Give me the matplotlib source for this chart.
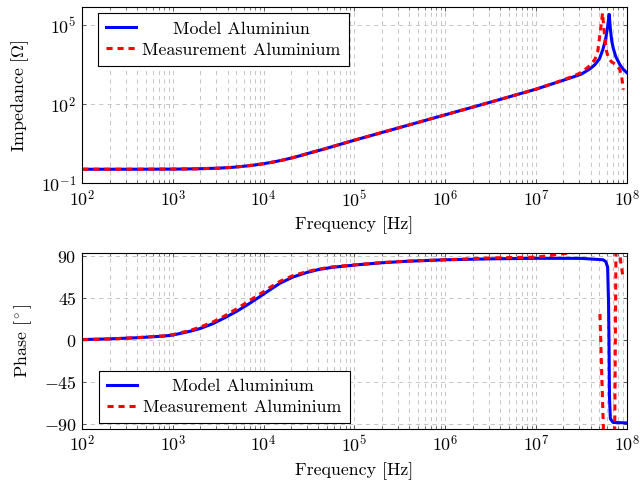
import matplotlib.pyplot as plt
import numpy as np
from matplotlib.ticker import FixedLocator, NullFormatter, NullLocator
from matplotlib.transforms import Affine2D

plt.rcParams['font.family'] = 'serif'
plt.rcParams['font.serif'] = ['cmr10']
plt.rcParams['mathtext.fontset'] = 'cm'
plt.rcParams['axes.formatter.use_mathtext'] = True
plt.rcParams['font.size'] = 12.9

# values, as log10 of frequency [Hz] / impedance [Ohm]
zm_logf = [2.0, 2.5, 3.0, 3.25, 3.5, 3.65, 3.8, 3.9, 4.0, 4.1, 4.2, 4.3, 4.4, 4.5,
           4.65, 4.8, 5.0, 5.5, 6.0, 6.5, 7.0, 7.25, 7.4, 7.5, 7.6, 7.65, 7.7,
           7.74, 7.77, 7.79, 7.807, 7.82, 7.835, 7.851, 7.88, 7.925, 7.96, 8.0]
zm_logz = [-0.46, -0.46, -0.455, -0.445, -0.42, -0.39, -0.34, -0.30, -0.25, -0.19,
           -0.12, -0.04, 0.05, 0.15, 0.29, 0.44, 0.64, 1.12, 1.60, 2.08, 2.57, 2.85,
           3.02, 3.14, 3.35, 3.50, 3.72, 4.10, 4.50, 4.95, 5.40, 4.85, 4.40, 4.13,
           3.80, 3.50, 3.33, 3.20]

zx_logf = [2.0, 2.5, 3.0, 3.25, 3.5, 3.65, 3.8, 3.9, 4.0, 4.1, 4.2, 4.3, 4.4, 4.5,
           4.65, 4.8, 5.0, 5.5, 6.0, 6.5, 7.0, 7.25, 7.4, 7.5, 7.6, 7.65, 7.68,
           7.705, 7.722, 7.734, 7.75, 7.778, 7.8, 7.834, 7.889, 7.925, 7.945, 7.962]
zx_logz = [-0.46, -0.46, -0.455, -0.445, -0.42, -0.39, -0.34, -0.30, -0.25, -0.19,
           -0.12, -0.04, 0.05, 0.15, 0.29, 0.44, 0.64, 1.12, 1.60, 2.08, 2.57, 2.86,
           3.05, 3.20, 3.48, 3.70, 3.98, 4.64, 5.10, 5.46, 4.80, 4.00, 3.75, 3.60,
           3.49, 3.30, 3.05, 2.55]

# phase [deg]
pm_logf = [2.0, 2.3, 2.6, 2.89, 3.0, 3.19, 3.3, 3.44, 3.57, 3.7, 3.83, 3.96, 4.07,
           4.18, 4.32, 4.47, 4.6, 4.76, 5.05, 5.3, 5.57, 6.0, 6.5, 7.0, 7.5, 7.74,
           7.77, 7.79, 7.8, 7.805, 7.81, 7.82, 7.85, 8.0]
pm_deg = [0.7, 1.4, 2.6, 4.3, 5.5, 9.6, 12.5, 17.7, 24, 30.8, 38.5, 46.8, 54, 61,
          67.5, 72.3, 75.5, 78, 80.8, 82.8, 84.4, 86, 87, 87.6, 87.5, 86, 84, 78,
          40, 0, -60, -84, -88, -88.5]

px_logf = [2.0, 2.3, 2.6, 2.89, 3.0, 3.19, 3.3, 3.44, 3.57, 3.7, 3.83, 3.96, 4.07,
           4.18, 4.32, 4.47, 4.6, 4.76, 5.05, 5.3, 5.57, 6.0, 6.5, 7.0, 7.15, 7.3,
           7.45, 7.6, 7.68, np.nan, 7.705, 7.745, 7.868, 7.882, 7.915, 7.96]
px_deg = [0.5, 1.3, 2.7, 4.6, 6, 10.5, 14, 19.5, 26, 33.5, 41.5, 49.5, 56.5, 63,
          69, 73.2, 76, 78.5, 81, 83, 84.5, 86, 88, 88.8, 90.5, 92.5, 94, 95, 97,
          np.nan, 28, -100, -100, 100, 97, 67]

blue = (0, 0, 1)
red = (1, 0, 0)
lw = 2.2
dash = (0, (2.0, 1.6))


def style(ax):
    ax.set_xscale('log')
    ax.set_xlim(1e2, 1e8)
    ax.xaxis.set_major_locator(FixedLocator([10.0 ** k for k in range(2, 9)]))
    ax.xaxis.set_minor_locator(FixedLocator([m * 10.0 ** k for k in range(2, 8) for m in range(2, 10)]))
    ax.xaxis.set_minor_formatter(NullFormatter())
    ax.set_xticklabels([f'$10^{{{k}}}$' for k in range(2, 9)])
    ax.grid(True, which='both', axis='x', color='#bcbcbc', lw=0.6, ls=(0, (5, 5)))
    ax.grid(True, which='major', axis='y', color='#bcbcbc', lw=0.6, ls=(0, (5, 5)))
    ax.set_axisbelow(True)
    ax.tick_params(which='both', direction='in', top=True, right=True, color='#444444')
    ax.tick_params(which='major', length=3.2, width=0.6, pad=4)
    ax.tick_params(which='minor', length=2.0, width=0.5)
    for s in ax.spines.values():
        s.set_linewidth(0.8)
    ax.set_xlabel('Frequency [Hz]', labelpad=5)


def center_legend(fig, leg):
    fig.canvas.draw()
    texts = leg.get_texts()
    widths = [t.get_window_extent().width for t in texts]
    wmax = max(widths)
    for t, w in zip(texts, widths):
        t.set_transform(t.get_transform() + Affine2D().translate((wmax - w) / 2, 0))


fig = plt.figure(figsize=(6.4, 4.83), dpi=100)
ax1 = fig.add_axes([0.1286, 0.6201, 0.8506, 0.3648])
ax2 = fig.add_axes([0.1286, 0.1124, 0.8506, 0.3631])

ax1.plot(10.0 ** np.array(zm_logf), 10.0 ** np.array(zm_logz), color=blue, lw=lw,
         label='Model Aluminiun')
ax1.plot(10.0 ** np.array(zx_logf), 10.0 ** np.array(zx_logz), color=red, lw=lw, ls=dash,
         label='Measurement Aluminium')
ax1.set_yscale('log')
ax1.set_ylim(10 ** -1.0, 10 ** 5.67)
ax1.yaxis.set_major_locator(FixedLocator([1e-1, 1e2, 1e5]))
ax1.yaxis.set_minor_locator(NullLocator())
style(ax1)
ax1.set_yticklabels(['$10^{-1}$', '$10^{2}$', '$10^{5}$'])
ax1.set_ylabel(r'Impedance [$\Omega$]', labelpad=7)

ax2.plot(10.0 ** np.array(pm_logf), pm_deg, color=blue, lw=lw, label='Model Aluminium')
ax2.plot(10.0 ** np.array(px_logf), px_deg, color=red, lw=lw, ls=dash,
         label='Measurement Aluminium')
ax2.set_ylim(-94.7, 92.9)
ax2.set_yticks([90, 45, 0, -45, -90])
ax2.set_yticklabels(['$90$', '$45$', '$0$', '$-45$', '$-90$'])
ax2.yaxis.set_minor_locator(NullLocator())
style(ax2)
ax2.set_ylabel(r'Phase [$^\circ$]', labelpad=7)

legkw = dict(frameon=True, fancybox=False, shadow=False, edgecolor='black',
             framealpha=1, borderaxespad=0, handlelength=1.67, handletextpad=0.35,
             borderpad=0.45, labelspacing=0.3)
leg1 = ax1.legend(loc='upper left', bbox_to_anchor=(0.0288, 0.9677), **legkw)
leg2 = ax2.legend(loc='lower left', bbox_to_anchor=(0.0307, 0.0308), **legkw)
for leg in (leg1, leg2):
    leg.get_frame().set_linewidth(0.8)
    center_legend(fig, leg)

fig.savefig('out.png', dpi=100)
